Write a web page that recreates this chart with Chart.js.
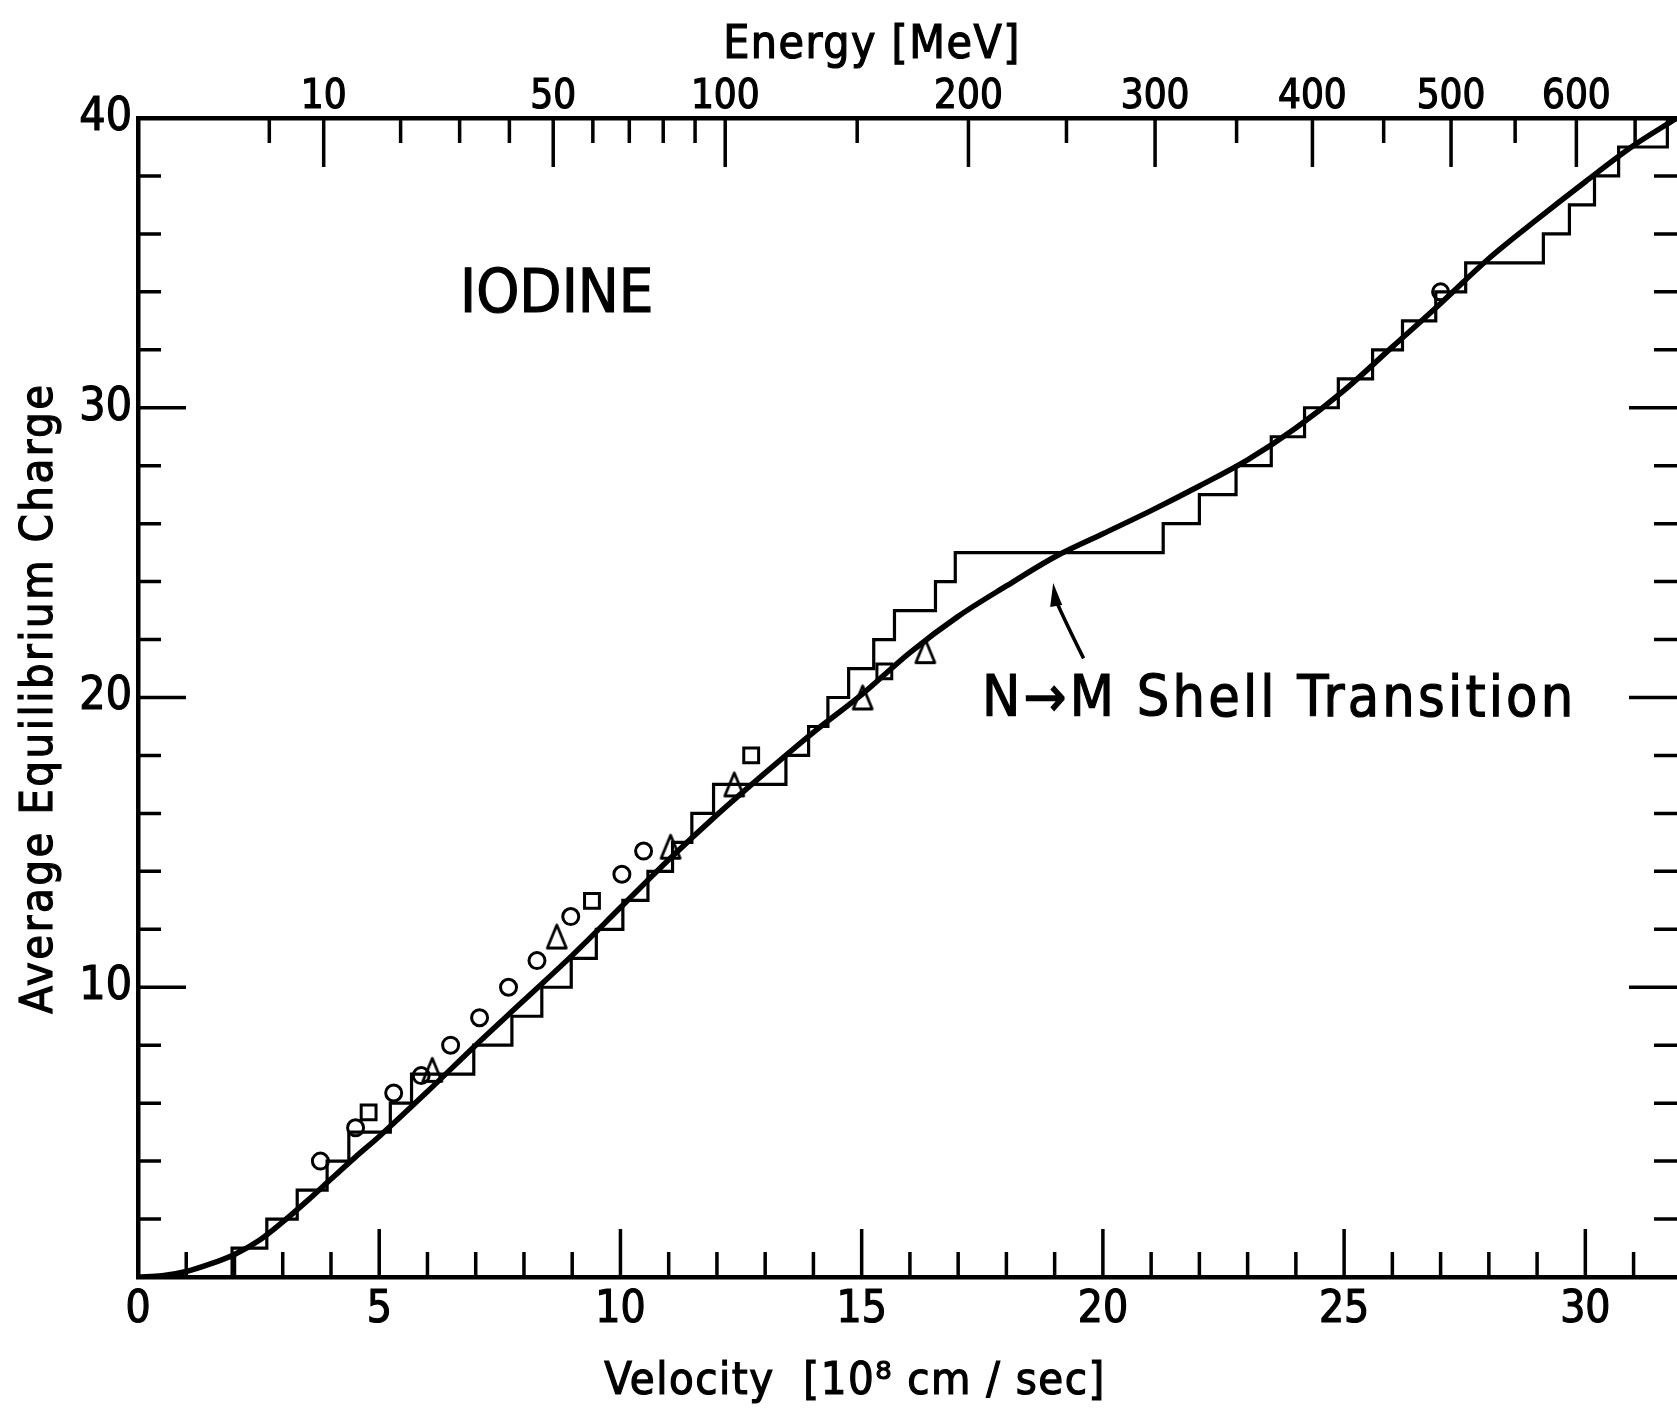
<!DOCTYPE html>
<html>
<head>
<meta charset="utf-8">
<title>Iodine - average equilibrium charge</title>
<script src="https://cdn.jsdelivr.net/npm/chart.js@4.4.1/dist/chart.umd.min.js"></script>
<style>
  html, body { margin: 0; padding: 0; background: #fff; }
  canvas { display: block; }
</style>
</head>
<body>
<canvas id="chargeChart" width="1677" height="1412"></canvas>
<script>
// tick labels
const velocityTicks = [0, 5, 10, 15, 20, 25, 30];
const chargeTicks = [10, 20, 30, 40];
const energyTicks = [10, 50, 100, 200, 300, 400, 500, 600];
const energyMinorTicks = [5, 20, 30, 40, 60, 70, 80, 90, 150, 250, 350, 450, 550, 650];

// smooth curve
const curveVelocity = [0, 0.5, 1, 1.5, 2, 2.5, 3, 3.5, 4, 4.5, 5, 6, 7, 8, 9, 10, 11, 12, 13, 14, 15, 16,
  17, 18, 19, 20, 21, 22, 23, 24, 25, 26, 27, 28, 29, 30, 31, 31.9];
const curveCharge = [0, 0.04, 0.19, 0.45, 0.78, 1.25, 1.9, 2.62, 3.38, 4.13, 4.85, 6.4, 8.0, 9.55, 11.1, 12.75,
  14.4, 15.95, 17.4, 18.8, 20.1, 21.55, 22.8, 23.85, 24.85, 25.65, 26.45, 27.3, 28.2, 29.3, 30.6, 32.1,
  33.6, 35.15, 36.5, 37.8, 39.05, 40];

// staircase: velocity at which the charge goes from k to k+1
const stepVelocity = [1.95, 2.67, 3.30, 3.92, 4.37, 5.23, 5.67, 6.96, 7.75, 8.37, 8.98, 9.50, 10.05, 10.57,
  11.08, 11.48, 11.93, 13.43, 13.90, 14.30, 14.73, 15.25, 15.68, 16.53, 16.94, 21.25, 22.0, 22.76, 23.49,
  24.18, 24.88, 25.59, 26.21, 26.9, 27.52, 29.13, 29.67, 30.19, 30.69, 31.7];

// measured points
const circleVelocity = [3.78, 4.51, 5.30, 5.87, 6.48, 7.08, 7.68, 8.27, 8.97, 10.03, 10.48, 27.0];
const circleCharge = [4.0, 5.15, 6.35, 6.95, 8.0, 8.95, 10.0, 10.92, 12.44, 13.9, 14.7, 34.0];
const squareVelocity = [4.78, 9.41, 12.71, 15.47];
const squareCharge = [5.68, 12.98, 18.0, 20.9];
const triangleVelocity = [6.10, 8.68, 11.04, 12.36, 15.02, 16.32];
const triangleCharge = [7.15, 11.75, 14.85, 17.0, 20.0, 21.6];

const X_MAX = 31.9;
const ENERGY_PER_V2 = 0.675; // MeV per (10^8 cm/s)^2, fitted to the top scale
const FONT = "'DejaVu Sans Condensed', 'DejaVu Sans', sans-serif";

function velocityOfEnergy(e) {
    return Math.sqrt(e / ENERGY_PER_V2);
}

function zip(xs, ys) {
    return xs.map((x, i) => ({ x: x, y: ys[i] }));
}

const stepPoints = [{ x: stepVelocity[0], y: 0 }].concat(stepVelocity.map((v, k) => ({ x: v, y: k + 1 })));

// open triangle, a bit taller than the built-in one
function triangleMark() {
    const c = document.createElement('canvas');
    c.width = 24;
    c.height = 28;
    const g = c.getContext('2d');
    g.lineWidth = 2.8;
    g.strokeStyle = '#000';
    g.lineJoin = 'round';
    g.beginPath();
    g.moveTo(12, 2.5);
    g.lineTo(21.5, 25.5);
    g.lineTo(2.5, 25.5);
    g.closePath();
    g.stroke();
    return c;
}

// ticks point into the plot on all four sides
const frameTicks = {
    id: 'frameTicks',
    afterDatasetsDraw(chart) {
        const { ctx, chartArea: a, scales } = chart;
        ctx.save();
        ctx.strokeStyle = '#000';
        ctx.lineWidth = 3.5;
        ctx.beginPath();
        for (let v = 1; v < X_MAX; v++) {
            const px = scales.x.getPixelForValue(v);
            const len = v % 5 === 0 ? 48 : 25;
            ctx.moveTo(px, a.bottom);
            ctx.lineTo(px, a.bottom - len);
        }
        energyTicks.forEach(e => {
            const px = scales.energy.getPixelForValue(velocityOfEnergy(e));
            ctx.moveTo(px, a.top);
            ctx.lineTo(px, a.top + 49);
        });
        energyMinorTicks.forEach(e => {
            const px = scales.energy.getPixelForValue(velocityOfEnergy(e));
            ctx.moveTo(px, a.top);
            ctx.lineTo(px, a.top + 25);
        });
        for (let q = 2; q < 40; q += 2) {
            const py = scales.y.getPixelForValue(q);
            const len = q % 10 === 0 ? 48 : 23;
            ctx.moveTo(a.left, py);
            ctx.lineTo(a.left + len, py);
            ctx.moveTo(a.right, py);
            ctx.lineTo(a.right - len, py);
        }
        ctx.stroke();
        ctx.restore();
    }
};

function boldText(ctx, text, x, y) {
    ctx.fillText(text, x, y);
    ctx.strokeText(text, x, y);
}

const textLayer = {
    id: 'textLayer',
    afterDraw(chart) {
        const { ctx, scales } = chart;
        ctx.save();
        ctx.fillStyle = '#000';
        ctx.strokeStyle = '#000';
        ctx.lineWidth = 1.2;
        ctx.textBaseline = 'alphabetic';

        ctx.textAlign = 'center';
        ctx.letterSpacing = '1.5px';
        ctx.font = '46px ' + FONT;
        boldText(ctx, 'Energy [MeV]', 872, 58);

        ctx.font = '45px ' + FONT;
        boldText(ctx, 'Velocity  [10\u2078 cm / sec]', 855, 1394);

        ctx.save();
        ctx.translate(52, 698);
        ctx.rotate(-Math.PI / 2);
        ctx.letterSpacing = '2.5px';
        ctx.font = '45px ' + FONT;
        boldText(ctx, 'Average Equilibrium Charge', 0, 0);
        ctx.restore();

        ctx.textAlign = 'left';
        ctx.letterSpacing = '0px';
        ctx.font = '61px ' + FONT;
        boldText(ctx, 'IODINE', 460, 312);

        ctx.letterSpacing = '3.2px';
        ctx.font = '57px ' + FONT;
        boldText(ctx, 'N\u2192M Shell Transition', 982, 716);

        // arrow pointing at the crossing of the curve and the long step
        const x0 = scales.x.getPixelForValue(19.6), y0 = scales.y.getPixelForValue(21.35);
        const x1 = scales.x.getPixelForValue(18.97), y1 = scales.y.getPixelForValue(23.95);
        ctx.lineWidth = 3.5;
        ctx.beginPath();
        ctx.moveTo(x0, y0);
        ctx.quadraticCurveTo(x0 - 18, y0 - 36, x1 + 3, y1 + 18);
        ctx.stroke();
        ctx.beginPath();
        ctx.moveTo(x1, y1);
        ctx.lineTo(x1 + 9, y1 + 22);
        ctx.lineTo(x1 - 3, y1 + 24);
        ctx.closePath();
        ctx.fill();
        ctx.restore();
    }
};

const axisTicks = (size, padding) => ({
    font: { family: FONT, size: size, lineHeight: 1 },
    color: '#000',
    textStrokeColor: '#000',
    textStrokeWidth: 1.2,
    padding: padding,
    maxRotation: 0,
    autoSkip: false
});

new Chart(document.getElementById('chargeChart'), {
    type: 'scatter',
    data: {
        datasets: [
            {
                label: 'theory',
                data: zip(curveVelocity, curveCharge),
                showLine: true,
                borderColor: '#000',
                borderWidth: 5.5,
                pointRadius: 0,
                cubicInterpolationMode: 'monotone'
            },
            {
                label: 'integer steps',
                data: stepPoints,
                showLine: true,
                stepped: 'before',
                borderColor: '#000',
                borderWidth: 3.2,
                pointRadius: 0
            },
            {
                label: 'circles',
                data: zip(circleVelocity, circleCharge),
                pointStyle: 'circle',
                pointRadius: 8,
                borderWidth: 3,
                borderColor: '#000',
                backgroundColor: 'rgba(0,0,0,0)'
            },
            {
                label: 'squares',
                data: zip(squareVelocity, squareCharge),
                pointStyle: 'rect',
                pointRadius: 10.5,
                borderWidth: 3,
                borderColor: '#000',
                backgroundColor: 'rgba(0,0,0,0)'
            },
            {
                label: 'triangles',
                data: zip(triangleVelocity, triangleCharge),
                pointStyle: triangleMark(),
                pointRadius: 11
            }
        ]
    },
    options: {
        responsive: false,
        animation: false,
        devicePixelRatio: 1,
        layout: { padding: 0, autoPadding: false },
        plugins: {
            legend: { display: false },
            tooltip: { enabled: false }
        },
        scales: {
            x: {
                type: 'linear',
                position: 'bottom',
                min: 0,
                max: X_MAX,
                grid: { display: false, drawTicks: false },
                border: { display: true, width: 4.5, color: '#000' },
                ticks: axisTicks(44, 12),
                afterBuildTicks: s => { s.ticks = velocityTicks.map(v => ({ value: v })); },
                afterFit: s => { s.height = 135; }
            },
            energy: {
                type: 'linear',
                position: 'top',
                min: 0,
                max: X_MAX,
                grid: { display: false, drawTicks: false },
                border: { display: true, width: 4.5, color: '#000' },
                ticks: Object.assign(axisTicks(40, 0), {
                    callback: (value, i) => String(energyTicks[i])
                }),
                afterBuildTicks: s => { s.ticks = energyTicks.map(e => ({ value: velocityOfEnergy(e) })); },
                afterFit: s => { s.height = 118; }
            },
            y: {
                type: 'linear',
                position: 'left',
                min: 0,
                max: 40,
                grid: { display: false, drawTicks: false },
                border: { display: true, width: 4.5, color: '#000' },
                ticks: axisTicks(46, 6),
                afterBuildTicks: s => { s.ticks = chargeTicks.map(v => ({ value: v })); },
                afterFit: s => { s.width = 138; }
            }
        }
    },
    plugins: [frameTicks, textLayer]
});
</script>
</body>
</html>
